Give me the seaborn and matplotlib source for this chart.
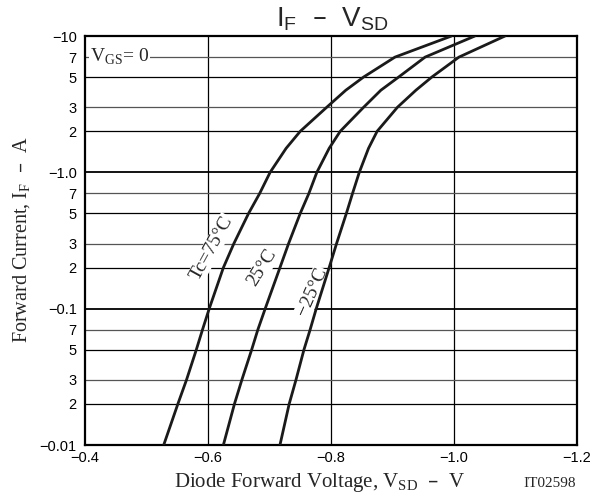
import numpy as np
import pandas as pd
import matplotlib
matplotlib.use("Agg")
import matplotlib.pyplot as plt
import seaborn as sns

# ---- data (magnitudes; axes are labelled negative) ----
current_A = [0.01, 0.02, 0.03, 0.05, 0.07, 0.1, 0.2, 0.3, 0.5, 0.7, 1.0, 1.5, 2.0, 3.0, 4.0, 5.0, 7.0, 10.0]
vsd_75C = [0.528, 0.551, 0.565, 0.581, 0.591, 0.602, 0.625, 0.642, 0.666, 0.684, 0.701, 0.727, 0.750, 0.793, 0.824, 0.853, 0.904, 0.996]
vsd_25C = [0.625, 0.643, 0.655, 0.671, 0.681, 0.693, 0.717, 0.731, 0.750, 0.764, 0.777, 0.797, 0.815, 0.853, 0.881, 0.910, 0.953, 1.034]
vsd_m25C = [0.717, 0.732, 0.743, 0.756, 0.766, 0.776, 0.797, 0.809, 0.825, 0.835, 0.846, 0.861, 0.875, 0.908, 0.938, 0.964, 1.008, 1.083]
temps = ["75", "25", "-25"]

x_ticks = [0.4, 0.6, 0.8, 1.0, 1.2]
x_tick_labels = ["\u22120.4", "\u22120.6", "\u22120.8", "\u22121.0", "\u22121.2"]
y_ticks = [0.01, 0.02, 0.03, 0.05, 0.07, 0.1, 0.2, 0.3, 0.5, 0.7, 1.0, 2, 3, 5, 7, 10]
y_tick_labels = ["\u22120.01", "2", "3", "5", "7", "\u22120.1", "2", "3", "5", "7",
                 "\u22121.0", "2", "3", "5", "7", "\u221210"]

n = len(current_A)
df = pd.DataFrame({
    "I": current_A * 3,
    "V": vsd_75C + vsd_25C + vsd_m25C,
    "T": [temps[0]] * n + [temps[1]] * n + [temps[2]] * n,
})

sns.set_style("white")
plt.rcParams["font.family"] = ["Liberation Sans", "DejaVu Sans"]

fig = plt.figure(figsize=(6.09, 4.98), dpi=100)
ax = fig.add_axes([85 / 609, 53 / 498, 492 / 609, 409 / 498])
ax.set_yscale("log")
ax.set_xlim(0.4, 1.2)
ax.set_ylim(0.01, 10)

# grid
for v in [0.6, 0.8, 1.0]:
    ax.axvline(v, color="black", lw=0.9, zorder=1)
for dec in [0.01, 0.1, 1.0]:
    for m, c in [(2, "black"), (3, "#555555"), (5, "black"), (7, "#555555")]:
        ax.axhline(dec * m, color=c, lw=0.9, zorder=1)
for v in [0.1, 1.0]:
    ax.axhline(v, color="black", lw=1.3, zorder=1)

sns.lineplot(data=df, x="V", y="I", hue="T", palette=["#1a1a1a"] * 3,
             estimator=None, sort=False, lw=2.0, legend=False, ax=ax, zorder=3)
for ln in ax.get_lines():
    ln.set_solid_joinstyle("round")

ax.set_xticks(x_ticks, x_tick_labels)
ax.set_yticks(y_ticks, y_tick_labels)
ax.minorticks_off()
ax.tick_params(axis="both", length=0, labelsize=10.5, colors="black")
ax.tick_params(axis="y", pad=6)
ax.tick_params(axis="x", pad=4)
for s in ax.spines.values():
    s.set_color("black")
    s.set_linewidth(1.6)
ax.set_xlabel("")
ax.set_ylabel("")

serif = ["Liberation Serif", "DejaVu Serif"]
bbox = dict(facecolor="white", edgecolor="none", pad=0.5)

ax.text(0.408, 7.0, r"V$_\mathregular{GS}$= 0", family=serif, fontsize=14,
        ha="left", va="center", bbox=bbox, zorder=4)
ax.text(0.6065, 0.279, "Tc=75\u00b0C", family=serif, fontsize=14, rotation=61,
        ha="center", va="center", bbox=bbox, zorder=2, rotation_mode="anchor")
ax.text(0.688, 0.199, "25\u00b0C", family=serif, fontsize=14, rotation=58,
        ha="center", va="center", bbox=bbox, zorder=2, rotation_mode="anchor")
ax.text(0.769, 0.132, "\u221225\u00b0C", family=serif, fontsize=14, rotation=66,
        ha="center", va="center", bbox=bbox, zorder=2, rotation_mode="anchor")

dash = "\u2013"
fig.text(332 / 609, 1 - 26 / 498, r"I$_\mathregular{F}$  " + dash + r"  V$_\mathregular{SD}$",
         fontsize=20, ha="center", va="baseline", family=["Liberation Sans", "DejaVu Sans"])
fig.text(320 / 609, 1 - 487 / 498, r"Diode Forward Voltage, V$_\mathregular{SD}$  " + dash + "  V",
         fontsize=15, ha="center", va="baseline", family=serif)
fig.text(576 / 609, 1 - 487 / 498, "IT02598", fontsize=11, ha="right", va="baseline", family=serif)
fig.text(22 / 609, 1 - 240 / 498, r"Forward Current, I$_\mathregular{F}$  " + dash + "  A",
         fontsize=14.5, ha="center", va="center", rotation=90, family=serif)

fig.savefig("out.png", dpi=100)
